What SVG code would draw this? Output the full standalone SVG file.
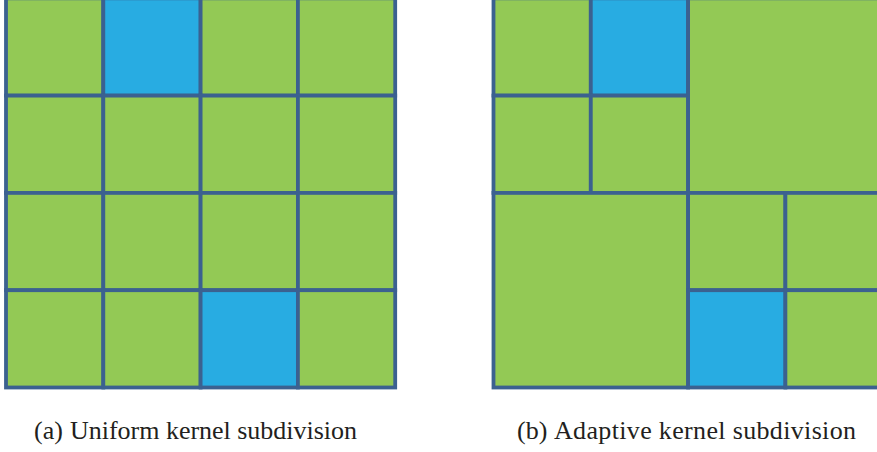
<svg xmlns="http://www.w3.org/2000/svg" width="877" height="452" viewBox="0 0 877 452">
<style>
.g{fill:#93C955;stroke:#3B6190;stroke-width:3.8}
.b{fill:#28ACE2;stroke:#3B6190;stroke-width:3.8}
text{font-family:'Liberation Serif','Times New Roman',Times,serif;font-size:26px;fill:#231F20}
</style>
<rect width="877" height="452" fill="#FFFFFF"/>
<g id="uniform">
<rect id="u00" class="g" x="6" y="-1.7" width="97.3" height="97.3"/>
<rect id="u01" class="b" x="103.3" y="-1.7" width="97.3" height="97.3"/>
<rect id="u02" class="g" x="200.6" y="-1.7" width="97.3" height="97.3"/>
<rect id="u03" class="g" x="297.9" y="-1.7" width="97.3" height="97.3"/>
<rect id="u10" class="g" x="6" y="95.6" width="97.3" height="97.3"/>
<rect id="u11" class="g" x="103.3" y="95.6" width="97.3" height="97.3"/>
<rect id="u12" class="g" x="200.6" y="95.6" width="97.3" height="97.3"/>
<rect id="u13" class="g" x="297.9" y="95.6" width="97.3" height="97.3"/>
<rect id="u20" class="g" x="6" y="192.9" width="97.3" height="97.3"/>
<rect id="u21" class="g" x="103.3" y="192.9" width="97.3" height="97.3"/>
<rect id="u22" class="g" x="200.6" y="192.9" width="97.3" height="97.3"/>
<rect id="u23" class="g" x="297.9" y="192.9" width="97.3" height="97.3"/>
<rect id="u30" class="g" x="6" y="290.2" width="97.3" height="97.3"/>
<rect id="u31" class="g" x="103.3" y="290.2" width="97.3" height="97.3"/>
<rect id="u32" class="b" x="200.6" y="290.2" width="97.3" height="97.3"/>
<rect id="u33" class="g" x="297.9" y="290.2" width="97.3" height="97.3"/>
</g>
<g id="adaptive">
<rect id="a00" class="g" x="493.5" y="-1.7" width="97.3" height="97.3"/>
<rect id="a01" class="b" x="590.8" y="-1.7" width="97.3" height="97.3"/>
<rect id="a10" class="g" x="493.5" y="95.6" width="97.3" height="97.3"/>
<rect id="a11" class="g" x="590.8" y="95.6" width="97.3" height="97.3"/>
<rect id="aTR" class="g" x="688.1" y="-1.7" width="194.6" height="194.6"/>
<rect id="aBL" class="g" x="493.5" y="192.9" width="194.6" height="194.6"/>
<rect id="a22" class="g" x="688.1" y="192.9" width="97.3" height="97.3"/>
<rect id="a23" class="g" x="785.4" y="192.9" width="97.3" height="97.3"/>
<rect id="a32" class="b" x="688.1" y="290.2" width="97.3" height="97.3"/>
<rect id="a33" class="g" x="785.4" y="290.2" width="97.3" height="97.3"/>
</g>
<g id="connectors"/>
<g id="captions">
<text x="34" y="439" font-family="Liberation Serif, serif">(a)</text>
<text x="70" y="439" font-family="Liberation Serif, serif" textLength="287" lengthAdjust="spacing">Uniform kernel subdivision</text>
<text x="517" y="439" font-family="Liberation Serif, serif">(b)</text>
<text x="554" y="439" font-family="Liberation Serif, serif" textLength="302" lengthAdjust="spacing">Adaptive kernel subdivision</text>
</g>
</svg>
